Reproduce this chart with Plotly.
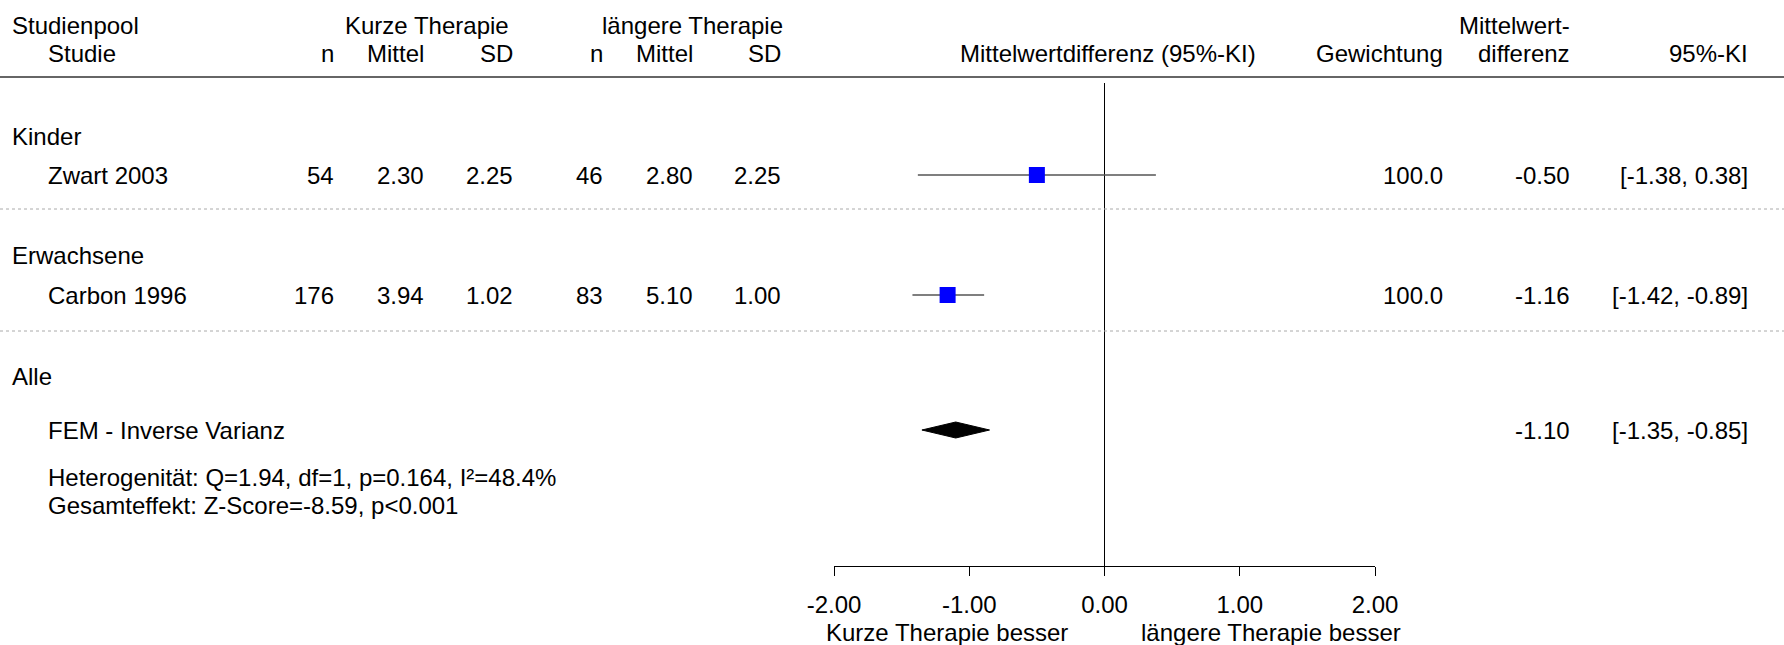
import plotly.graph_objects as go

# ---------------- data ----------------
subgroups = ["Kinder", "Erwachsene"]
studies = ["Zwart 2003", "Carbon 1996"]
n_short = [54, 176]
mean_short = [2.30, 3.94]
sd_short = [2.25, 1.02]
n_long = [46, 83]
mean_long = [2.80, 5.10]
sd_long = [2.25, 1.00]
weights = [100.0, 100.0]
md = [-0.50, -1.16]
ci_low = [-1.38, -1.42]
ci_high = [0.38, -0.89]

pooled_label = "FEM - Inverse Varianz"
pooled_md = -1.10
pooled_low = -1.35
pooled_high = -0.85
overall_group = "Alle"
het_text = "Heterogenität: Q=1.94, df=1, p=0.164, I²=48.4%"
overall_text = "Gesamteffekt: Z-Score=-8.59, p<0.001"

tick_vals = [-2, -1, 0, 1, 2]
tick_labels = ["-2.00", "-1.00", "0.00", "1.00", "2.00"]
left_label = "Kurze Therapie besser"
right_label = "längere Therapie besser"

# ---------------- layout constants (pixels) ----------------
W, H = 1784, 645
FONT = "Liberation Sans, Arial, sans-serif"
FS = 24
Y_H1, Y_H2, Y_LINE = 25, 53, 77
Y_GROUP = [136, 255]
Y_STUDY = [175, 295]
Y_SEP = [209, 331]
Y_ALL, Y_POOL, Y_HET, Y_TOT = 376, 430, 477, 505
Y_DIR = 632
AX_TOP, AX_BOT = 83, 566
X_FOREST = (834, 1375)

X_GROUP, X_STUDY = 12, 48
X_NS, X_MS, X_SS = 334, 424, 513
X_NL, X_ML, X_SL = 603, 693, 781
X_W, X_MD, X_CI = 1443, 1570, 1748
X_HDR_SHORT, X_HDR_LONG = 427, 692

fig = go.Figure()
ann = []


def txt(x, y, s, anchor="left"):
    ann.append(dict(x=x, y=y, xref="x", yref="y", text=s, showarrow=False,
                    xanchor=anchor, yanchor="middle", borderpad=0, borderwidth=0,
                    font=dict(family=FONT, size=FS, color="#000000")))


# headers
txt(X_GROUP, Y_H1, "Studienpool")
txt(X_STUDY, Y_H2, "Studie")
txt(X_HDR_SHORT, Y_H1, "Kurze Therapie", "center")
txt(X_HDR_LONG, Y_H1, "längere Therapie", "center")
for x, s in [(X_NS, "n"), (X_MS, "Mittel"), (X_SS, "SD"),
             (X_NL, "n"), (X_ML, "Mittel"), (X_SL, "SD")]:
    txt(x, Y_H2, s, "right")
txt(1256, Y_H2, "Mittelwertdifferenz (95%-KI)", "right")
txt(X_W, Y_H2, "Gewichtung", "right")
txt(X_MD, Y_H1, "Mittelwert-", "right")
txt(X_MD, Y_H2, "differenz", "right")
txt(X_CI, Y_H2, "95%-KI", "right")

# study rows
for i in range(len(studies)):
    txt(X_GROUP, Y_GROUP[i], subgroups[i])
    y = Y_STUDY[i]
    txt(X_STUDY, y, studies[i])
    txt(X_NS, y, f"{n_short[i]}", "right")
    txt(X_MS, y, f"{mean_short[i]:.2f}", "right")
    txt(X_SS, y, f"{sd_short[i]:.2f}", "right")
    txt(X_NL, y, f"{n_long[i]}", "right")
    txt(X_ML, y, f"{mean_long[i]:.2f}", "right")
    txt(X_SL, y, f"{sd_long[i]:.2f}", "right")
    txt(X_W, y, f"{weights[i]:.1f}", "right")
    txt(X_MD, y, f"{md[i]:.2f}", "right")
    txt(X_CI, y, f"[{ci_low[i]:.2f}, {ci_high[i]:.2f}]", "right")

# pooled
txt(X_GROUP, Y_ALL, overall_group)
txt(X_STUDY, Y_POOL, pooled_label)
txt(X_MD, Y_POOL, f"{pooled_md:.2f}", "right")
txt(X_CI, Y_POOL, f"[{pooled_low:.2f}, {pooled_high:.2f}]", "right")
txt(X_STUDY, Y_HET, het_text)
txt(X_STUDY, Y_TOT, overall_text)

# direction labels on the forest axis
for x, s, a in [(-0.27, left_label, "right"), (0.27, right_label, "left")]:
    ann.append(dict(x=x, y=Y_DIR, xref="x2", yref="y", text=s, showarrow=False,
                    xanchor=a, yanchor="middle", borderpad=0, borderwidth=0,
                    font=dict(family=FONT, size=FS, color="#000000")))

# CI lines
for i in range(len(studies)):
    fig.add_trace(go.Scatter(x=[ci_low[i], ci_high[i]], y=[Y_STUDY[i], Y_STUDY[i]],
                             mode="lines", line=dict(color="#555555", width=1.5),
                             xaxis="x2", yaxis="y2", hoverinfo="skip", showlegend=False))
# squares
fig.add_trace(go.Scatter(x=md, y=Y_STUDY, mode="markers",
                         marker=dict(symbol="square", size=16, color="#0000FF",
                                     line=dict(width=0)),
                         xaxis="x2", yaxis="y2", hoverinfo="skip", showlegend=False))
# diamond
half = 8
fig.add_trace(go.Scatter(x=[pooled_low, pooled_md, pooled_high, pooled_md, pooled_low],
                         y=[Y_POOL, Y_POOL - half, Y_POOL, Y_POOL + half, Y_POOL],
                         mode="lines", fill="toself", fillcolor="#000000",
                         line=dict(color="#000000", width=1),
                         xaxis="x2", yaxis="y2", hoverinfo="skip", showlegend=False))

shapes = [
    dict(type="line", xref="paper", yref="y", x0=0, x1=1, y0=Y_LINE, y1=Y_LINE,
         line=dict(color="#333333", width=1.5)),
]
for ys in Y_SEP:
    shapes.append(dict(type="line", xref="paper", yref="y", x0=0, x1=1, y0=ys, y1=ys,
                       line=dict(color="#aaaaaa", width=1, dash="dot")))

fig.update_layout(
    width=W, height=H,
    margin=dict(l=0, r=0, t=0, b=0, pad=0, autoexpand=False),
    paper_bgcolor="white", plot_bgcolor="rgba(0,0,0,0)",
    showlegend=False, annotations=ann, shapes=shapes,
    font=dict(family=FONT, size=FS, color="#000000"),
    xaxis=dict(domain=[0, 1], range=[0, W], visible=False, fixedrange=True,
               automargin=False),
    yaxis=dict(domain=[0, 1], range=[H, 0], visible=False, fixedrange=True,
               automargin=False),
    xaxis2=dict(domain=[X_FOREST[0] / W, X_FOREST[1] / W], range=[-2, 2],
                anchor="y2", showline=True, linecolor="#000000", linewidth=1,
                ticks="outside", ticklen=9, tickcolor="#000000", tickwidth=1,
                tickvals=tick_vals, ticktext=tick_labels, ticklabelstandoff=8,
                tickfont=dict(family=FONT, size=FS, color="#000000"),
                showgrid=False, zeroline=True, zerolinecolor="#000000",
                zerolinewidth=1, fixedrange=True, automargin=False),
    yaxis2=dict(domain=[(H - AX_BOT) / H, (H - AX_TOP) / H], range=[AX_BOT, AX_TOP],
                anchor="x2", visible=False, showgrid=False, zeroline=False,
                fixedrange=True, automargin=False),
)

fig.write_html("out.html", include_plotlyjs=True,
               config={"displayModeBar": False, "staticPlot": True},
               post_script="document.body.style.margin='0';")
